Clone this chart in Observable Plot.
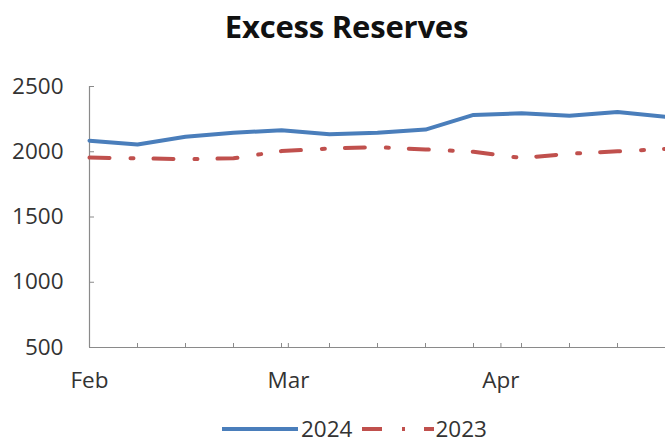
<!DOCTYPE html>
<html>
<head>
<meta charset="utf-8">
<script src="https://cdn.jsdelivr.net/npm/d3@7"></script>
<script src="https://cdn.jsdelivr.net/npm/@observablehq/plot@0.6"></script>
<style>
  html, body { margin: 0; padding: 0; background: #fff; }
  #wrap { position: relative; width: 665px; height: 446px; overflow: hidden; font-family: "Open Sans", sans-serif; }
  #title { position: absolute; top: 5px; left: 0; width: 665px; padding-left: 28px; box-sizing: border-box; text-align: center; font-weight: bold; font-size: 31px; color: #111; letter-spacing: -0.2px; }
  #chart { position: absolute; top: 0; left: 0; }
  #legend { position: absolute; top: 413px; left: 222px; display: flex; align-items: center; font-size: 22.5px; color: #333; white-space: nowrap; }
  #legend svg { display: block; }
</style>
</head>
<body>
<div id="wrap">
  <div id="chart"></div>
  <div id="title">Excess Reserves</div>
  <div id="legend"></div>
</div>
<script>
const weekDates = ["2024-02-01","2024-02-08","2024-02-15","2024-02-22","2024-02-29","2024-03-07","2024-03-14","2024-03-21","2024-03-28","2024-04-04","2024-04-11","2024-04-18","2024-04-25"];
const series2024 = [2085, 2055, 2115, 2145, 2165, 2135, 2145, 2170, 2282, 2295, 2275, 2305, 2268];
const series2023 = [1955, 1950, 1942, 1950, 2005, 2025, 2035, 2018, 2000, 1952, 1985, 2003, 2022];
const monthTickDates = ["2024-02-01","2024-03-01","2024-04-01"];
const monthLabels = ["Feb","Mar","Apr"];
const yTicks = [500, 1000, 1500, 2000, 2500];
const seriesNames = ["2024", "2023"];

const parse = s => new Date(s + "T00:00:00Z");
const weeks = weekDates.map(parse);
const months = monthTickDates.map(parse);
const d2024 = weeks.map((d, i) => ({date: d, value: series2024[i]}));
const d2023 = weeks.map((d, i) => ({date: d, value: series2023[i]}));

const blue = "#4A7EBB", red = "#C0504D", axisGray = "#8a8a8a", textGray = "#333333";

const chart = Plot.plot({
  width: 665, height: 446,
  marginLeft: 89, marginRight: 0, marginTop: 86, marginBottom: 99,
  style: {fontFamily: "Open Sans, sans-serif", fontSize: "22.5px", color: textGray, background: "transparent", overflow: "visible"},
  x: {type: "utc", domain: [weeks[0], weeks[weeks.length - 1]]},
  y: {domain: [500, 2500]},
  marks: [
    Plot.axisY({ticks: yTicks, tickSize: 0, tickPadding: 26, tickFormat: d => String(d), label: null, fill: textGray}),
    Plot.axisY({ticks: yTicks, tickSize: 5, dx: 5, text: null, label: null, stroke: axisGray}),
    Plot.axisX({ticks: months, tickSize: 0, tickPadding: 25, label: null, fill: textGray,
      tickFormat: d => monthLabels[months.findIndex(m => +m === +d)]}),
    Plot.axisX({ticks: [...weeks, ...months.slice(1)], tickSize: 4, dy: -4, text: null, label: null, stroke: axisGray}),
    Plot.ruleX([weeks[0]], {stroke: axisGray, strokeWidth: 1.2}),
    Plot.ruleY([500], {stroke: axisGray, strokeWidth: 1.2}),
    Plot.line(d2023, {x: "date", y: "value", stroke: red, strokeWidth: 4, strokeDasharray: "20,21,3,20"}),
    Plot.line(d2024, {x: "date", y: "value", stroke: blue, strokeWidth: 4})
  ]
});
document.getElementById("chart").appendChild(chart);

const legend = document.getElementById("legend");
legend.innerHTML =
  `<svg width="76" height="10"><line x1="0" y1="5" x2="76" y2="5" stroke="${blue}" stroke-width="4"/></svg>` +
  `<span style="margin-left:3px;margin-right:10px">${seriesNames[0]}</span>` +
  `<svg width="72" height="10"><line x1="0" y1="5" x2="72" y2="5" stroke="${red}" stroke-width="4" stroke-dasharray="20,20,3,19,10"/></svg>` +
  `<span style="margin-left:1px">${seriesNames[1]}</span>`;
</script>
</body>
</html>
